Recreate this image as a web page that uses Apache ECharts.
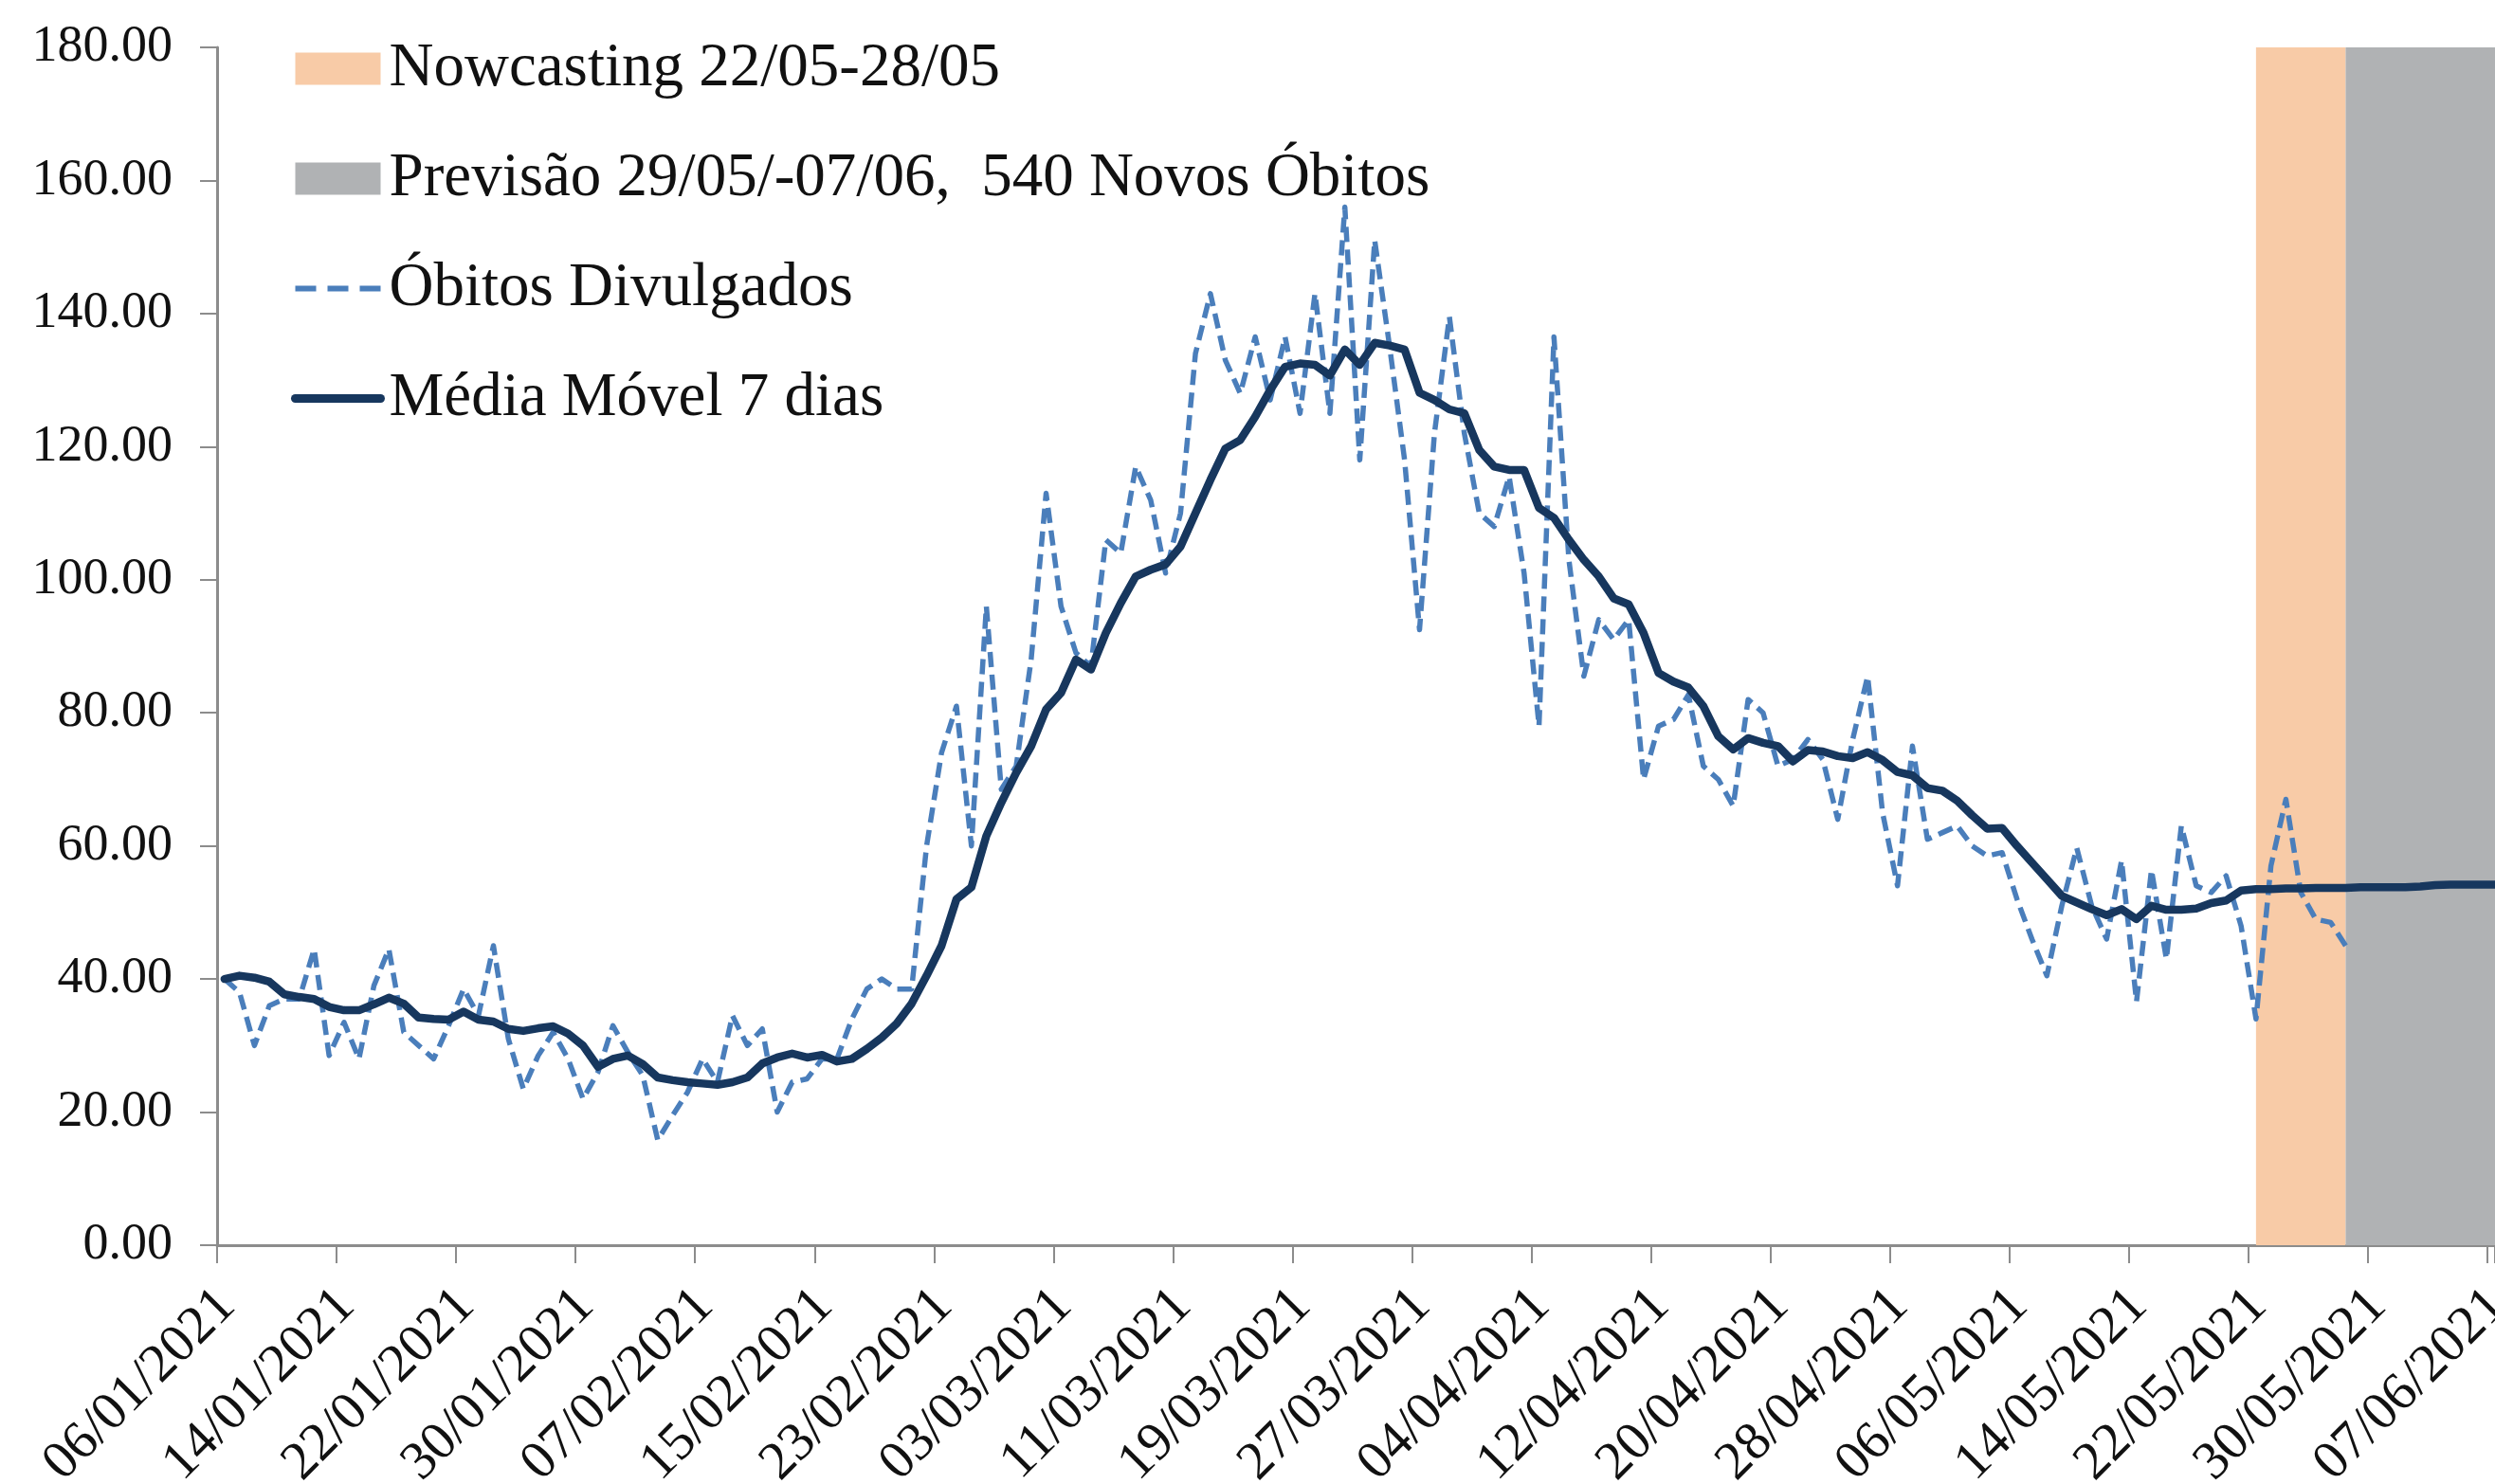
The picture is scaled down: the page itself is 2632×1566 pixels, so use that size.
<!DOCTYPE html>
<html>
<head>
<meta charset="utf-8">
<script src="https://cdn.jsdelivr.net/npm/echarts@6/dist/echarts.min.js"></script>
<style>
html,body{margin:0;padding:0;background:#ffffff;overflow:hidden;}
#chart{width:2632px;height:1566px;}
</style>
</head>
<body>
<div id="chart"></div>
<script>
// ---------- DATA ----------
const firstDay = [2021, 0, 6];     // 06/01/2021
const dayCount = 153;              // 06/01/2021 .. 07/06/2021
const tickStep = 8;                // a date label every 8 days
const yTicks = {min: 0, max: 180, step: 20};

// daily deaths (Óbitos Divulgados), 06/01 .. 28/05
const obitos = [
  40, 38, 30, 36, 37, 37, 44.5, 28.5, 33.5, 28,
  39, 44.5, 32, 30, 28, 33, 38.5, 34.5, 45, 31,
  23.5, 28.5, 32, 28, 22, 26, 33, 29, 25.5, 15.8,
  19.5, 23, 28, 24.5, 34.5, 30, 32.5, 20, 24.5, 25,
  28, 28, 34, 38.5, 40, 38.5, 38.5, 60, 74, 81,
  60, 96, 68.5, 72, 88, 113, 96, 89, 87, 106,
  104, 117, 112, 101, 110, 134, 143, 133, 128, 136.5,
  127, 136.5, 125, 143, 125, 156, 118, 151, 135, 118,
  92.5, 122, 139.5, 122, 110, 108, 115.5, 101, 78, 136.5,
  103, 85.5, 94, 91, 94, 70, 78, 79, 82.7, 72,
  70, 66, 82, 80, 72, 73, 76, 73, 64, 76,
  85.5, 65, 54, 75, 61, 62, 63, 60, 58.5, 59,
  52, 46, 40.5, 51, 59.7, 51, 46, 57.8, 36.6, 56.4,
  43, 63, 54, 53, 55.5, 48, 34, 57, 67, 53,
  49, 48.5, 45
];

// 7-day moving average, 06/01 .. 07/06
const mediaMovel = [
  40, 40.5, 40.2, 39.6, 37.7, 37.3, 37, 35.8, 35.3, 35.3,
  36.2, 37.2, 36.3, 34.2, 34, 33.9, 35.1, 33.9, 33.6, 32.5,
  32.2, 32.6, 32.9, 31.8, 30, 26.8, 28, 28.5, 27.2, 25.2,
  24.8, 24.5, 24.3, 24.1, 24.5, 25.2, 27.3, 28.2, 28.8, 28.2,
  28.6, 27.6, 28, 29.5, 31.2, 33.3, 36.3, 40.5, 45, 52,
  53.8, 61.5, 66.5, 71, 75, 80.5, 83, 88, 86.5, 92,
  96.5, 100.5, 101.5, 102.3, 105, 110, 115, 119.7, 121, 124.5,
  128.5, 132, 132.5, 132.3, 130.7, 134.6, 132.3, 135.6, 135.2, 134.6,
  128.1, 127, 125.6, 125, 119.5, 117, 116.5, 116.5, 110.8, 109.3,
  106, 103, 100.5, 97.2, 96.3, 92, 86, 84.7, 83.8, 81,
  76.5, 74.5, 76.2, 75.5, 75, 72.7, 74.4, 74.2, 73.5, 73.2,
  74.1, 72.9, 71.1, 70.6, 68.7, 68.3, 66.8, 64.6, 62.6, 62.7,
  60, 57.5, 55, 52.5, 51.5, 50.5, 49.6, 50.5, 49, 51,
  50.4, 50.4, 50.6, 51.4, 51.8, 53.3, 53.5, 53.5, 53.6, 53.6,
  53.7, 53.7, 53.7, 53.8, 53.8, 53.8, 53.8, 53.9, 54.1, 54.2,
  54.2, 54.2, 54.2
];

const nowcastBand  = {name: 'Nowcasting 22/05-28/05', from: '22/05/2021', to: '28/05/2021'};
const forecastBand = {name: 'Previsão 29/05/-07/06,  540 Novos Óbitos', from: '28/05/2021', to: '07/06/2021'};
const seriesNames = {obitos: 'Óbitos Divulgados', media: 'Média Móvel 7 dias'};

// ---------- BUILD ----------
function pad(n){ return (n < 10 ? '0' : '') + n; }
const dates = [];
for (let i = 0; i < dayCount; i++) {
  const d = new Date(Date.UTC(firstDay[0], firstDay[1], firstDay[2] + i));
  dates.push(pad(d.getUTCDate()) + '/' + pad(d.getUTCMonth() + 1) + '/' + d.getUTCFullYear());
}
// points sit in the middle of each day (date axis "between tick marks")
const HALF = 0.5;
const pos = (dateStr) => dates.indexOf(dateStr) + HALF;
const xMax = dayCount - 1 + HALF;

const FONT = '"Liberation Serif", "Times New Roman", serif';
const TEXT = '#111111';
const AXIS = '#8c8c8c';
const BLUE = '#4a7ebb';
const NAVY = '#17375e';
const HIDDEN = {color: 'rgba(0,0,0,0)', borderColor: 'rgba(0,0,0,0)', borderWidth: 0};

const chart = echarts.init(document.getElementById('chart'), null, {renderer: 'canvas'});
chart.setOption({
  backgroundColor: '#ffffff',
  animation: false,
  grid: {left: 229, right: 0, top: 50, bottom: 252, containLabel: false, outerBoundsMode: 'none'},
  legend: {
    orient: 'vertical',
    left: 307,
    top: 40,
    padding: 0,
    itemWidth: 90,
    itemHeight: 34,
    itemGap: 51,
    textStyle: {fontFamily: FONT, fontSize: 65, color: TEXT, lineHeight: 65, padding: [0, 0, 0, 4]},
    data: [
      {name: nowcastBand.name, icon: 'rect'},
      {name: forecastBand.name, icon: 'rect'},
      {name: seriesNames.obitos, itemStyle: HIDDEN, lineStyle: {color: BLUE, width: 6, type: [22, 12]}},
      {name: seriesNames.media, itemStyle: HIDDEN, lineStyle: {color: NAVY, width: 9}}
    ]
  },
  xAxis: {
    type: 'value',
    min: 0,
    max: xMax,
    interval: tickStep,
    axisLine: {show: true, lineStyle: {color: AXIS, width: 3}},
    axisTick: {show: true, length: 19, lineStyle: {color: AXIS, width: 2}},
    splitLine: {show: false},
    axisLabel: {
      rotate: 45,
      margin: 45,
      verticalAlign: 'top',
      lineHeight: 30,
      fontFamily: FONT,
      fontSize: 57,
      color: TEXT,
      formatter: function (v) {
        return (Number.isInteger(v) && v % tickStep === 0 && dates[v]) ? dates[v] : '';
      }
    }
  },
  yAxis: {
    type: 'value',
    min: yTicks.min,
    max: yTicks.max,
    interval: yTicks.step,
    axisLine: {show: true, lineStyle: {color: AXIS, width: 3}},
    axisTick: {show: true, length: 18, lineStyle: {color: AXIS, width: 2}},
    splitLine: {show: false},
    axisLabel: {
      margin: 47,
      fontFamily: FONT,
      fontSize: 54,
      color: TEXT,
      formatter: function (v) { return v.toFixed(2); }
    }
  },
  series: [
    {
      name: nowcastBand.name,
      type: 'line',
      data: [],
      z: 1,
      itemStyle: {color: '#f8cba7'},
      lineStyle: {color: '#f8cba7'},
      markArea: {
        silent: true,
        itemStyle: {color: '#f8cba7', opacity: 1},
        data: [[{xAxis: pos(nowcastBand.from)}, {xAxis: pos(nowcastBand.to)}]]
      }
    },
    {
      name: forecastBand.name,
      type: 'line',
      data: [],
      z: 1,
      itemStyle: {color: '#b0b2b4'},
      lineStyle: {color: '#b0b2b4'},
      markArea: {
        silent: true,
        itemStyle: {color: '#b0b2b4', opacity: 1},
        data: [[{xAxis: pos(forecastBand.from)}, {xAxis: pos(forecastBand.to)}]]
      }
    },
    {
      name: seriesNames.obitos,
      type: 'line',
      z: 3,
      symbol: 'none',
      smooth: false,
      itemStyle: {color: BLUE},
      lineStyle: {color: BLUE, width: 5.5, type: [16, 8], join: 'round'},
      data: obitos.map((v, i) => [i + HALF, v])
    },
    {
      name: seriesNames.media,
      type: 'line',
      z: 4,
      symbol: 'none',
      smooth: false,
      itemStyle: {color: NAVY},
      lineStyle: {color: NAVY, width: 8.5, join: 'round', cap: 'round'},
      data: mediaMovel.map((v, i) => [i + HALF, v])
    }
  ]
});
</script>
</body>
</html>
